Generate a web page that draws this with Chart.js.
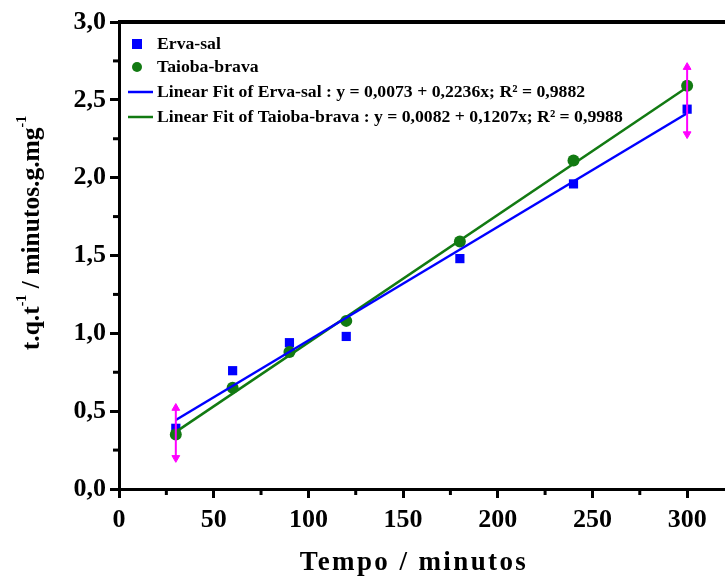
<!DOCTYPE html>
<html>
<head>
<meta charset="utf-8">
<script src="https://cdn.jsdelivr.net/npm/chart.js@4"></script>
<style>
html,body{margin:0;padding:0;background:#fff;}
#wrap{width:725px;height:578px;}
</style>
</head>
<body>
<div id="wrap"><canvas id="c" width="725" height="578"></canvas></div>
<script>
// ---- data ----
const timeMin = [30, 60, 90, 120, 180, 240, 300];
const ervaSal = [0.39, 0.76, 0.94, 0.98, 1.48, 1.96, 2.44];
const taiobaBrava = [0.35, 0.65, 0.88, 1.08, 1.59, 2.11, 2.59];
const fitX = [30, 300];
const fitErvaSal = [0.443, 2.414];
const fitTaioba = [0.367, 2.581];
const errX = [30, 300];
const errLow = [0.20, 2.28];
const errHigh = [0.52, 2.71];
const xTicks = [0, 50, 100, 150, 200, 250, 300];
const yTicks = [0, 0.5, 1.0, 1.5, 2.0, 2.5, 3.0];
const legendLabels = [
  'Erva-sal',
  'Taioba-brava',
  'Linear Fit of Erva-sal : y = 0,0073 + 0,2236x; R\u00B2 = 0,9882',
  'Linear Fit of Taioba-brava : y = 0,0082 + 0,1207x; R\u00B2 = 0,9988'
];
const xTitle = 'Tempo / minutos';
// y title pieces: [text, isSuperscript]
const yTitleParts = [['t.q.t', false], ['-1', true], [' / minutos.g.mg', false], ['-1', true]];

const BLUE = '#0000ff', GREEN = '#127a12', MAG = '#ff00ff';
const FONT = "'Liberation Serif', 'DejaVu Serif', serif";

const pts = (xs, ys) => xs.map((x, i) => ({x, y: ys[i]}));

const datasets = [];
errX.forEach((x, i) => {
  datasets.push({
    type: 'line', data: [{x, y: errHigh[i]}, {x, y: errLow[i]}],
    borderColor: MAG, borderWidth: 2, backgroundColor: MAG,
    pointStyle: 'triangle', pointRadius: 4.5, rotation: [0, 180], pointBorderWidth: 1
  });
});
datasets.push({type:'line', data: pts(fitX, fitErvaSal), borderColor: BLUE, borderWidth: 2.5, pointRadius: 0});
datasets.push({type:'line', data: pts(fitX, fitTaioba), borderColor: GREEN, borderWidth: 2.5, pointRadius: 0});
datasets.push({type:'scatter', data: pts(timeMin, taiobaBrava), pointStyle:'circle', pointRadius: 6, backgroundColor: GREEN, borderColor: GREEN, borderWidth: 0});
datasets.push({type:'scatter', data: pts(timeMin, ervaSal), pointStyle:'rect', pointRadius: 6.5, backgroundColor: BLUE, borderColor: BLUE, borderWidth: 0});

const fmt = v => v.toFixed(1).replace('.', ',');

const decor = {
  id: 'decor',
  afterDraw(chart) {
    const {ctx, chartArea: a, scales: {x, y}} = chart;
    ctx.save();
    // top frame
    ctx.strokeStyle = '#000'; ctx.lineWidth = 4;
    ctx.beginPath(); ctx.moveTo(a.left - 1, a.top); ctx.lineTo(chart.width, a.top); ctx.stroke();
    // minor ticks
    ctx.lineWidth = 3;
    for (let i = 0; i < xTicks.length; i++) {
      const v = xTicks[i] + 25;
      if (v > x.max) break;
      const px = x.getPixelForValue(v);
      ctx.beginPath(); ctx.moveTo(px, a.bottom); ctx.lineTo(px, a.bottom + 6); ctx.stroke();
    }
    for (let i = 0; i < yTicks.length - 1; i++) {
      const py = y.getPixelForValue(yTicks[i] + 0.25);
      ctx.beginPath(); ctx.moveTo(a.left, py); ctx.lineTo(a.left - 6, py); ctx.stroke();
    }
    // legend
    ctx.font = 'bold 17.7px ' + FONT;
    ctx.textBaseline = 'middle';
    const lx = 157, ly = [44, 67, 92, 117];
    ctx.fillStyle = BLUE; ctx.fillRect(132, ly[0] - 5, 10, 10);
    ctx.fillStyle = GREEN; ctx.beginPath(); ctx.arc(137, ly[1], 5, 0, Math.PI * 2); ctx.fill();
    ctx.lineWidth = 2.5;
    ctx.strokeStyle = BLUE; ctx.beginPath(); ctx.moveTo(128, ly[2]); ctx.lineTo(153, ly[2]); ctx.stroke();
    ctx.strokeStyle = GREEN; ctx.beginPath(); ctx.moveTo(128, ly[3]); ctx.lineTo(153, ly[3]); ctx.stroke();
    ctx.fillStyle = '#000';
    legendLabels.forEach((t, i) => ctx.fillText(t, lx, ly[i]));
    // x title
    ctx.font = 'bold 27px ' + FONT;
    ctx.letterSpacing = '2.4px';
    ctx.textAlign = 'center';
    ctx.fillText(xTitle, 414, 563);
    ctx.letterSpacing = '0px';
    // y title (rotated, with small superscripts)
    const mainF = 'bold 25.5px ' + FONT, supF = 'bold 14px ' + FONT;
    let total = 0;
    yTitleParts.forEach(([t, sup]) => { ctx.font = sup ? supF : mainF; total += ctx.measureText(t).width; });
    ctx.save();
    ctx.translate(32, 233);
    ctx.rotate(-Math.PI / 2);
    ctx.textAlign = 'left';
    let cx = -total / 2;
    yTitleParts.forEach(([t, sup]) => {
      ctx.font = sup ? supF : mainF;
      ctx.fillText(t, cx, sup ? -10 : 0);
      cx += ctx.measureText(t).width;
    });
    ctx.restore();
    ctx.restore();
  }
};

new Chart(document.getElementById('c'), {
  type: 'scatter',
  data: { datasets },
  options: {
    responsive: false,
    animation: false,
    layout: { autoPadding: false, padding: { top: 22, right: 0, left: 0, bottom: 0 } },
    plugins: { legend: { display: false }, tooltip: { enabled: false } },
    scales: {
      x: {
        type: 'linear', min: 0, max: 320,
        afterFit(s) { s.height = 89; s.paddingRight = 0; s.paddingLeft = 0; },
        afterBuildTicks(s) { s.ticks = xTicks.map(v => ({value: v})); },
        border: { display: true, color: '#000', width: 3 },
        grid: { drawOnChartArea: false, drawTicks: true, tickLength: 9, tickWidth: 3, tickColor: '#000', color: '#000' },
        ticks: { color: '#000', font: { family: FONT, size: 26, weight: 'bold' }, padding: 7, maxRotation: 0, callback: v => String(v) }
      },
      y: {
        type: 'linear', min: 0, max: 3,
        afterFit(s) { s.width = 119; s.paddingTop = 0; s.paddingBottom = 0; },
        afterBuildTicks(s) { s.ticks = yTicks.map(v => ({value: v})); },
        border: { display: true, color: '#000', width: 3 },
        grid: { drawOnChartArea: false, drawTicks: true, tickLength: 9, tickWidth: 3, tickColor: '#000', color: '#000' },
        ticks: { color: '#000', font: { family: FONT, size: 26, weight: 'bold' }, padding: 4, callback: v => fmt(v) }
      }
    }
  },
  plugins: [decor]
});
</script>
</body>
</html>
